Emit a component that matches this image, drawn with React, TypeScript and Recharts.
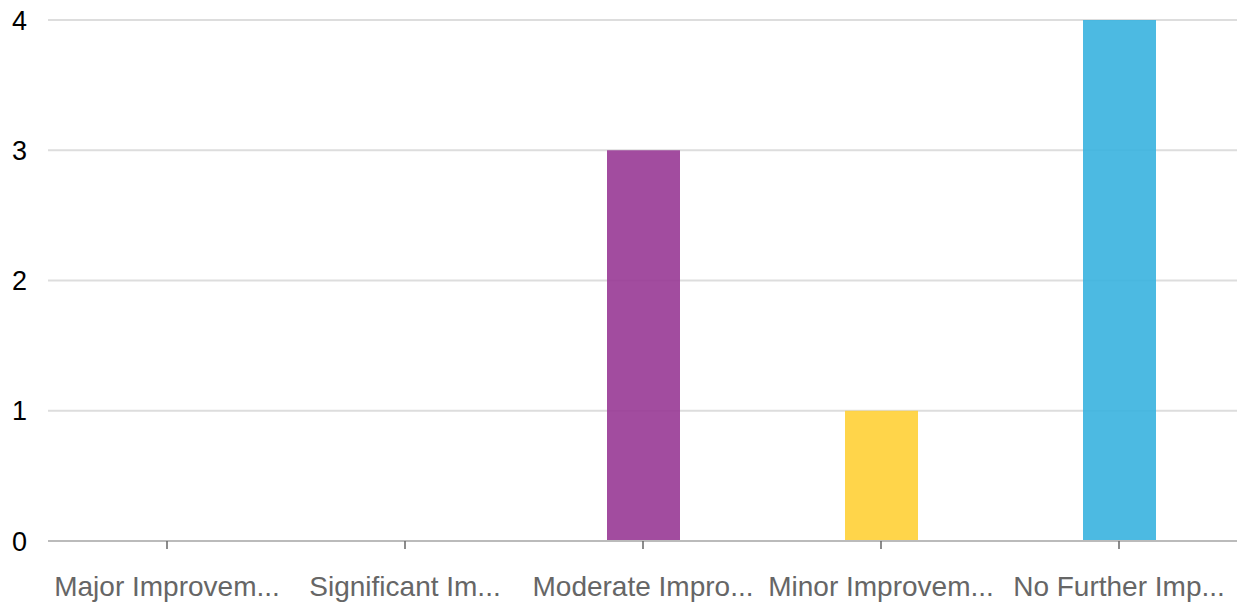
import React from "react";
import { BarChart, Bar, XAxis, YAxis, CartesianGrid, Cell } from "recharts";

const categories = [
  "Major Improvem...",
  "Significant Im...",
  "Moderate Impro...",
  "Minor Improvem...",
  "No Further Imp...",
];
const counts = [0, 0, 3, 1, 4];
const barColors = ["#983895", "#983895", "#983895", "#ffd036", "#39b2df"];
const yTicks = [0, 1, 2, 3, 4];

const data = categories.map((name, i) => ({ name, value: counts[i] }));

export default function App() {
  return (
    <div style={{ position: "absolute", left: 0, top: 0, fontFamily: "'Liberation Sans', Arial, sans-serif" }}>
      <BarChart
        width={1238}
        height={605}
        data={data}
        margin={{ top: 20, right: 0, left: 0, bottom: 0 }}
        barSize={73}
      >
        <CartesianGrid vertical={false} stroke="#dddddd" strokeWidth={2} />
        <XAxis
          dataKey="name"
          height={64}
          tickSize={8}
          tickMargin={27}
          interval={0}
          stroke="#bbbbbb"
          strokeWidth={2}
          tick={{ fill: "#666666", fontSize: 28, fontFamily: "'Liberation Sans', Arial, sans-serif" }}
          tickLine={{ stroke: "#666666", strokeWidth: 1.5 }}
        />
        <YAxis
          width={48}
          domain={[0, 4]}
          ticks={yTicks}
          axisLine={false}
          tickLine={false}
          tickSize={0}
          tickMargin={21}
          tick={{ fill: "#000000", fontSize: 27, fontFamily: "'Liberation Sans', Arial, sans-serif" }}
        />
        <Bar dataKey="value" isAnimationActive={false} fillOpacity={0.9}>
          {data.map((d, i) => (
            <Cell key={d.name} fill={barColors[i]} />
          ))}
        </Bar>
      </BarChart>
    </div>
  );
}
